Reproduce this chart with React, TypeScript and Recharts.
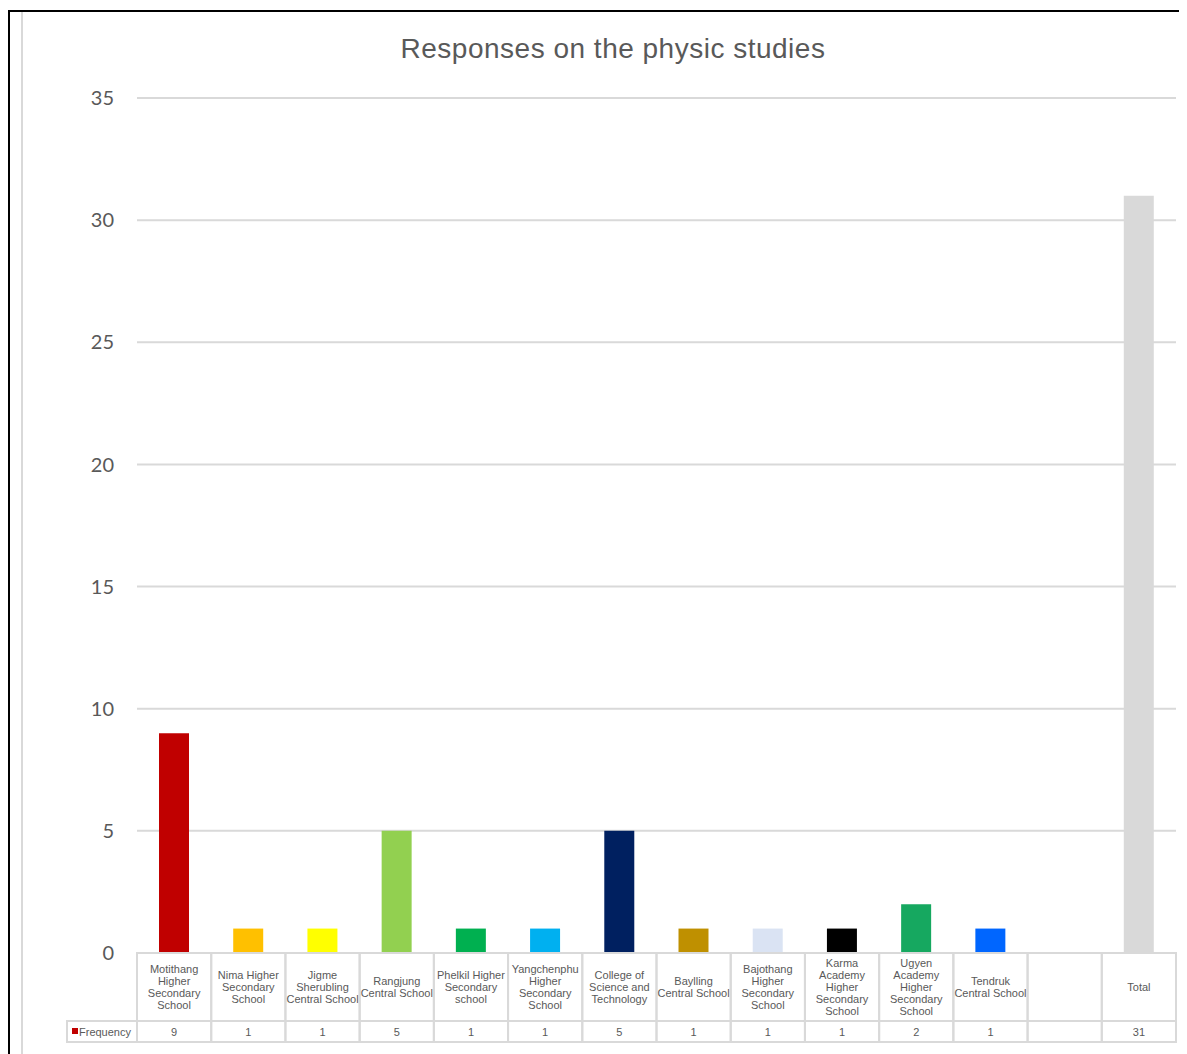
import React from "react";
import { BarChart, Bar, XAxis, YAxis, CartesianGrid, Cell } from "recharts";

const categories: string[] = [
  "Motithang\nHigher\nSecondary\nSchool",
  "Nima Higher\nSecondary\nSchool",
  "Jigme\nSherubling\nCentral School",
  "Rangjung\nCentral School",
  "Phelkil Higher\nSecondary\nschool",
  "Yangchenphu\nHigher\nSecondary\nSchool",
  "College of\nScience and\nTechnology",
  "Baylling\nCentral School",
  "Bajothang\nHigher\nSecondary\nSchool",
  "Karma\nAcademy\nHigher\nSecondary\nSchool",
  "Ugyen\nAcademy\nHigher\nSecondary\nSchool",
  "Tendruk\nCentral School",
  "",
  "Total",
];

const frequency: (number | null)[] = [9, 1, 1, 5, 1, 1, 5, 1, 1, 1, 2, 1, null, 31];

const barColors: string[] = [
  "#C00000",
  "#FFC000",
  "#FFFF00",
  "#92D050",
  "#00B050",
  "#00B0F0",
  "#002060",
  "#BF9000",
  "#DAE3F3",
  "#000000",
  "#16A860",
  "#0066FF",
  "#FFFFFF",
  "#D9D9D9",
];

const yTicks: number[] = [0, 5, 10, 15, 20, 25, 30, 35];

const seriesName = "Frequency";
const title = "Responses on the physic studies";

const data = categories.map((c, i) => ({ key: String(i), name: c, value: frequency[i] }));

const CHART_W = 1187;
const CHART_H = 1054;
const MARGIN = { top: 98, right: 11, bottom: 11, left: 77 };
const Y_AXIS_W = 60;
const X_AXIS_H = 90;
const BAND_W = (CHART_W - MARGIN.left - Y_AXIS_W - MARGIN.right) / categories.length;
const HEADER_H = 68;
const VALUE_H = 21;
const GRID = "#D9D9D9";
const TEXT = "#595959";
const FONT = "'Liberation Sans', Arial, sans-serif";

const TableTick = (props: any) => {
  const { x, y, payload, index } = props;
  const i = Number(payload.value);
  const label = categories[i] ?? "";
  const lines = label ? label.split("\n") : [];
  const lh = 12.2;
  const cy = y + HEADER_H / 2;
  const startY = cy - ((lines.length - 1) * lh) / 2;
  const v = frequency[i];
  const left = x - BAND_W / 2;
  return (
    <g>
      <rect x={left} y={y} width={BAND_W} height={HEADER_H} fill="none" stroke={GRID} strokeWidth={2} />
      <rect x={left} y={y + HEADER_H} width={BAND_W} height={VALUE_H} fill="none" stroke={GRID} strokeWidth={2} />
      {lines.map((ln, k) => (
        <text
          key={k}
          x={x}
          y={startY + k * lh}
          textAnchor="middle"
          dominantBaseline="central"
          fontSize={11}
          fontFamily={FONT}
          fill={TEXT}
        >
          {ln}
        </text>
      ))}
      {v != null && (
        <text
          x={x}
          y={y + HEADER_H + VALUE_H / 2}
          textAnchor="middle"
          dominantBaseline="central"
          fontSize={11}
          fontFamily={FONT}
          fill={TEXT}
        >
          {v}
        </text>
      )}
      {index === 0 && (
        <g>
          <rect x={left - 70} y={y + HEADER_H} width={70} height={VALUE_H} fill="#fff" stroke={GRID} strokeWidth={2} />
          <rect x={left - 65} y={y + HEADER_H + 7} width={6} height={6} fill={barColors[0]} />
          <text
            x={left - 58}
            y={y + HEADER_H + VALUE_H / 2}
            dominantBaseline="central"
            fontSize={11}
            fontFamily={FONT}
            fill={TEXT}
          >
            {seriesName}
          </text>
        </g>
      )}
    </g>
  );
};

export default function App() {
  return (
    <div style={{ position: "relative", width: CHART_W, height: CHART_H }}>
      <div
        style={{
          position: "absolute",
          left: 0,
          top: 2,
          width: CHART_W - 8,
          height: CHART_H - 10,
          borderLeft: "2px solid #000",
          borderTop: "2px solid #000",
        }}
      />
      <div
        style={{
          position: "absolute",
          left: 13,
          top: 4,
          width: 2,
          height: CHART_H - 12,
          background: GRID,
        }}
      />
      <div
        style={{
          position: "absolute",
          left: 0,
          top: 0,
          width: CHART_W,
          height: CHART_H,
          marginLeft: -8,
          marginTop: -8,
        }}
      >
        <div
          style={{
            position: "absolute",
            left: 613 - 300,
            width: 600,
            top: 31,
            textAlign: "center",
            fontFamily: FONT,
            fontSize: 28,
            letterSpacing: 0.5,
            color: TEXT,
            lineHeight: "36px",
            whiteSpace: "nowrap",
          }}
        >
          {title}
        </div>
        <BarChart width={CHART_W} height={CHART_H} data={data} margin={MARGIN}>
          <CartesianGrid vertical={false} stroke={GRID} strokeWidth={2} />
          <XAxis
            dataKey="key"
            interval={0}
            height={X_AXIS_H}
            tickLine={false}
            axisLine={false}
            tickSize={0}
            tickMargin={0}
            tick={<TableTick />}
          />
          <YAxis
            width={Y_AXIS_W}
            domain={[0, 35]}
            ticks={yTicks}
            interval={0}
            axisLine={false}
            tickLine={false}
            tickSize={6}
            tickMargin={17}
            tick={{ fontSize: 20, fill: TEXT, fontFamily: "Lato, sans-serif" }}
          />
          <Bar dataKey="value" barSize={30} isAnimationActive={false}>
            {data.map((d, i) => (
              <Cell key={i} fill={barColors[i]} />
            ))}
          </Bar>
        </BarChart>
      </div>
    </div>
  );
}
